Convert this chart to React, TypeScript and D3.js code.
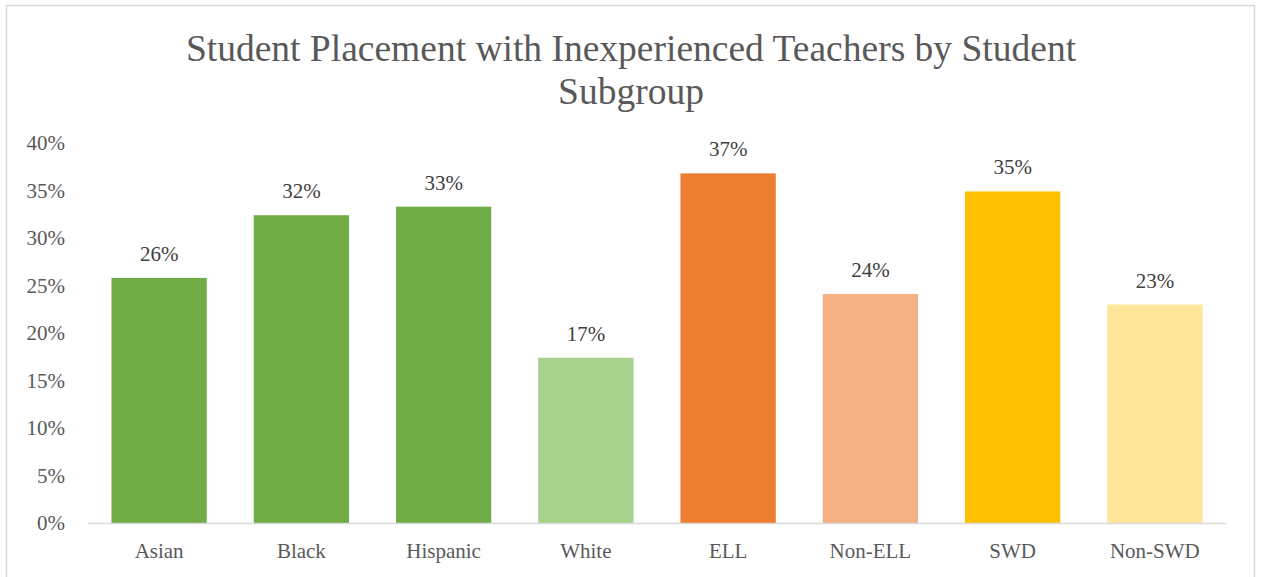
import React, { useEffect, useRef } from "react";
import * as d3 from "d3";

// Chart data
const CATEGORIES = ["Asian", "Black", "Hispanic", "White", "ELL", "Non-ELL", "SWD", "Non-SWD"];
const VALUES = [25.8, 32.4, 33.3, 17.4, 36.8, 24.1, 34.9, 23.0];
const COLORS = ["#70AD47", "#70AD47", "#70AD47", "#A9D18E", "#ED7D31", "#F4B183", "#FFC000", "#FFE699"];
const Y_TICKS = [0, 5, 10, 15, 20, 25, 30, 35, 40];
const TITLE_LINES = ["Student Placement with Inexperienced Teachers by Student", "Subgroup"];

const WIDTH = 1262;
const HEIGHT = 577;
const FONT = "'Liberation Serif', 'Times New Roman', serif";

export default function App() {
  const svgRef = useRef<SVGSVGElement>(null);

  useEffect(() => {
    if (!svgRef.current) return;
    const svg = d3.select(svgRef.current);
    svg.selectAll("*").remove();

    const margin = { top: 143, right: 36, bottom: 54, left: 88 };
    const chartWidth = WIDTH - margin.left - margin.right;
    const chartHeight = HEIGHT - margin.top - margin.bottom;

    // outer frame
    svg
      .append("rect")
      .attr("x", 6.5)
      .attr("y", 5.5)
      .attr("width", 1248)
      .attr("height", 590)
      .attr("fill", "#fff")
      .attr("stroke", "#d9d9d9")
      .attr("stroke-width", 1.5);

    // title
    const title = svg
      .append("text")
      .attr("text-anchor", "middle")
      .style("font-family", FONT)
      .style("font-size", "37.5px")
      .style("fill", "#595959");
    TITLE_LINES.forEach((line, i) => {
      title
        .append("tspan")
        .attr("x", 631)
        .attr("y", 61 + i * 43)
        .text(line);
    });

    const g = svg.append("g").attr("transform", `translate(${margin.left},${margin.top})`);

    const x = d3.scaleBand().domain(CATEGORIES).range([0, chartWidth]).paddingInner(0.33).paddingOuter(0.165);
    const y = d3.scaleLinear().domain([0, 40]).range([chartHeight, 0]);

    // y axis labels
    g.append("g")
      .selectAll("text")
      .data(Y_TICKS)
      .enter()
      .append("text")
      .attr("x", -23)
      .attr("y", (d) => y(d))
      .attr("dy", "0.35em")
      .attr("text-anchor", "end")
      .style("font-family", FONT)
      .style("font-size", "21px")
      .style("fill", "#595959")
      .text((d) => `${d}%`);

    // bars
    g.selectAll("rect.bar")
      .data(VALUES)
      .enter()
      .append("rect")
      .attr("class", "bar")
      .attr("x", (_, i) => x(CATEGORIES[i])!)
      .attr("y", (d) => y(d))
      .attr("width", x.bandwidth())
      .attr("height", (d) => chartHeight - y(d))
      .attr("fill", (_, i) => COLORS[i]);

    // baseline
    g.append("line")
      .attr("x1", 0)
      .attr("x2", chartWidth)
      .attr("y1", chartHeight + 0.5)
      .attr("y2", chartHeight + 0.5)
      .attr("stroke", "#d9d9d9")
      .attr("stroke-width", 1.5);

    // data labels
    g.selectAll("text.label")
      .data(VALUES)
      .enter()
      .append("text")
      .attr("class", "label")
      .attr("x", (_, i) => x(CATEGORIES[i])! + x.bandwidth() / 2)
      .attr("y", (d) => y(d) - 17)
      .attr("text-anchor", "middle")
      .style("font-family", FONT)
      .style("font-size", "21px")
      .style("fill", "#404040")
      .text((d) => `${Math.round(d)}%`);

    // category labels
    g.selectAll("text.cat")
      .data(CATEGORIES)
      .enter()
      .append("text")
      .attr("class", "cat")
      .attr("x", (d) => x(d)! + x.bandwidth() / 2)
      .attr("y", chartHeight + 35)
      .attr("text-anchor", "middle")
      .style("font-family", FONT)
      .style("font-size", "21px")
      .style("fill", "#595959")
      .text((d) => d);
  }, []);

  return (
    <svg
      ref={svgRef}
      width={WIDTH}
      height={HEIGHT}
      style={{ position: "absolute", left: 0, top: 0, display: "block" }}
    />
  );
}
